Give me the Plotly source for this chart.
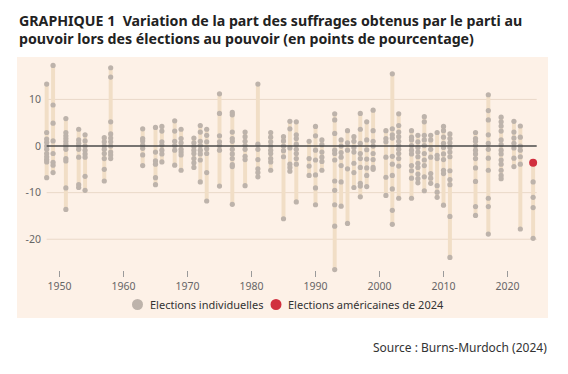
import plotly.graph_objects as go

# ---- data ----
years = [1948, 1949, 1951, 1953, 1954, 1957, 1958, 1963, 1965, 1966, 1968, 1969,
         1971, 1972, 1973, 1975, 1977, 1979, 1981, 1983, 1985, 1986, 1987, 1989,
         1990, 1991, 1993, 1994, 1995, 1996, 1997, 1998, 1999, 2001, 2002, 2003,
         2005, 2006, 2007, 2008, 2009, 2010, 2011, 2015, 2017, 2019, 2021, 2022, 2024]

values = [
    [13.3, 2.9, 1.5, 0.8, 0, -0.7, -1.6, -2.3, -2.9, -3.4, -6.8],          # 1948
    [17.3, 8.8, 4.9, 1.1, -1.6, -3.5, -4.1, -5.7],                         # 1949
    [5.9, 2.9, 2.2, 1.6, 1.0, 0.4, -0.1, -0.7, -2.7, -3.2, -9.0, -13.6],   # 1951
    [3.6, 1.3, 0.6, 0, -0.7, -2.4, -8.3, -8.9],                            # 1953
    [2.4, 1.1, 0, -0.9, -1.7, -2.4, -6.5, -9.5],                           # 1954
    [1.8, 0.9, 0, -0.7, -1.6, -2.7, -5.0, -7.5],                           # 1957
    [16.8, 14.8, 5.2, 2.6, 1.7, 0.9, 0, -1.3, -1.9, -2.7],                 # 1958
    [3.7, 1.6, 1.1, 0.2, -0.5, -1.9, -4.2],                                # 1963
    [4.0, -1.3, -3.2, -3.9, -6.8, -8.3],                                   # 1965
    [4.2, 3.2, 0.9, 0.2, -0.9, -1.7, -3.4],                                # 1966
    [5.4, 3.2, 1.0, 0.1, -0.9, -4.1],                                      # 1968
    [3.6, 1.6, 0.7, -0.7, -1.3, -1.9, -5.2],                               # 1969
    [1.7, 0.7, -0.1, -0.9, -1.6, -2.7, -3.6, -4.6],                        # 1971
    [4.4, 3.0, 1.0, 0.1, -0.9, -1.7, -3.0, -7.7],                          # 1972
    [3.6, 2.3, 0.9, -0.6, -1.6, -5.7, -11.8],                              # 1973
    [11.2, 7.0, 2.2, 0.9, 0.1, -0.9, -8.6],                                # 1975
    [7.2, 6.7, 3.0, 1.6, 1.0, -0.7, -1.7, -2.7, -4.0, -4.4, -12.5],        # 1977
    [3.0, 2.0, 1.0, 0.1, -0.7, -2.2, -2.9, -8.5],                          # 1979
    [13.3, 0.4, -0.7, -2.9, -4.9, -5.7, -6.6],                             # 1981
    [2.9, 1.9, 0.9, 0, -0.9, -1.6, -2.7, -3.4, -5.2],                      # 1983
    [2.0, 1.1, 0, -1.0, -2.3, -15.6],                                      # 1985
    [5.3, 3.7, -0.4, -3.9, -4.6, -5.4],                                    # 1986
    [5.2, 2.4, 1.6, 0.4, -0.7, -1.6, -2.7, -3.9, -12.0],                   # 1987
    [1.0, -2.7, -4.3, -6.3],                                               # 1989
    [4.2, 2.2, -0.9, -3.0, -6.2, -9.0, -12.6],                             # 1990
    [1.3, 0.3, -1.3, -2.4, -3.3, -5.2],                                    # 1991
    [6.9, 5.6, 2.7, -0.9, -1.6, -3.0, -7.5, -9.5, -12.6, -17.2, -26.5],    # 1993
    [1.3, 0, -1.4, -2.4, -4.2, -7.7, -12.9],                               # 1994
    [3.3, 0.7, -0.9, -4.9, -16.6],                                         # 1995
    [2.0, 1.0, -0.3, -1.3, -3.7, -5.7, -8.9],                              # 1996
    [7.0, 3.6, 0.6, -1.6, -2.7, -4.6, -8.0, -8.6, -10.9],                  # 1997
    [5.2, 1.3, -0.8, -2.8, -4.7, -6.3, -8.7],                              # 1998
    [7.7, 3.3, 1.0, 0, -1.6, -2.9, -4.6, -5.0],                            # 1999
    [3.3, 1.6, 0.9, -2.4, -6.7, -10.6],                                    # 2001
    [15.5, 3.7, 2.4, 1.7, -2.2, -3.9, -6.3, -9.2, -13.8, -16.8],           # 2002
    [6.9, 4.4, 3.0, 2.0, 1.0, 0.1, -0.7, -1.6, -2.7, -4.3, -11.2],         # 2003
    [3.3, 1.9, 1.3, 0.1, -0.9, -1.7, -4.2, -5.3, -6.9, -11.2],             # 2005
    [2.3, 0.9, -0.3, -1.3, -2.3, -3.7, -4.6, -6.0, -7.0, -7.9],            # 2006
    [6.3, 5.2, 2.3, 1.3, 0.1, -1.6, -3.0, -4.2, -6.6, -9.6],               # 2007
    [2.3, 1.3, -0.7, -2.4, -5.9, -6.9, -8.0],                              # 2008
    [2.9, -2.0, -2.7, -8.5, -9.9, -11.0],                                  # 2009
    [4.2, 3.3, 1.9, 0.6, -0.3, -1.7, -2.9, -5.2, -5.9, -12.7],             # 2010
    [2.6, 1.6, 0.7, -0.3, -1.3, -2.3, -5.3, -7.2, -8.3, -15.1, -23.9],     # 2011
    [2.9, 1.6, 1.0, 0.1, -0.9, -1.7, -2.7, -4.7, -7.6, -13.0, -14.9],      # 2015
    [11.0, 7.6, 5.6, 2.4, 0.6, -0.7, -2.6, -5.2, -11.2, -13.0, -18.9],     # 2017
    [6.2, 5.2, 4.3, 3.2, 1.3, 0.3, -0.9, -1.7, -3.0, -3.9, -5.2, -6.3, -7.0],  # 2019
    [5.3, 3.0, 1.7, 0.6, -0.4, -2.6, -4.4],                                # 2021
    [4.3, 1.9, 0, -0.9, -2.3, -3.9, -17.8],                                # 2022
    [-7.7, -11.0, -13.2, -19.8],                                           # 2024
]

us_year = [2024]
us_value = [-3.6]

y_ticks = [10, 0, -10, -20]
x_ticks = [1950, 1960, 1970, 1980, 1990, 2000, 2010, 2020]

title1 = "GRAPHIQUE 1&nbsp;&nbsp;Variation de la part des suffrages obtenus par le parti au"
title2 = "pouvoir lors des élections au pouvoir (en points de pourcentage)"
legend_gray = "Elections individuelles"
legend_red = "Elections américaines de 2024"
source = "Source : Burns-Murdoch (2024)"

# ---- colours ----
BG = "#FDF1E7"
BAR = "#F1DEC6"
DOT = "#BDB3AB"
RED = "#D12F3E"
GRID = "#EAD8C8"
ZERO = "#4A4A4A"
FONT = "Noto Sans"

# ---- derived series ----
mins, maxs = [], []
for yr, vals in zip(years, values):
    allv = list(vals) + [v for y2, v in zip(us_year, us_value) if y2 == yr]
    mins.append(min(allv))
    maxs.append(max(allv))

dot_x = [yr for yr, vals in zip(years, values) for _ in vals]
dot_y = [v for vals in values for v in vals]

# ---- layout geometry (pixels; page has an 8px body margin) ----
OFF = 8
W, H = 560, 366
L, R, T, B = 34, 27, 54, 104
PW, PH = W - L - R, H - T - B


def px(x):
    return (x - OFF - L) / PW


def py(y):
    return (H - B - (y - OFF)) / PH


fig = go.Figure()

fig.add_trace(go.Bar(
    x=years, base=mins, y=[a - b for a, b in zip(maxs, mins)],
    width=0.62, marker=dict(color=BAR, line=dict(width=0)),
    hoverinfo="skip", showlegend=False,
))

fig.add_trace(go.Scatter(
    x=dot_x, y=dot_y, mode="markers",
    marker=dict(color=DOT, size=5.2, line=dict(width=0)),
    cliponaxis=False, showlegend=False, name=legend_gray,
))

fig.add_trace(go.Scatter(
    x=us_year, y=us_value, mode="markers",
    marker=dict(color=RED, size=8, line=dict(width=0)),
    cliponaxis=False, showlegend=False, name=legend_red,
))

shapes = []
# beige panel
shapes.append(dict(type="rect", xref="paper", yref="paper",
                   x0=px(17), x1=px(548), y0=py(318), y1=py(57),
                   fillcolor=BG, line=dict(width=0), layer="below"))
# grid lines
for v in y_ticks:
    if v == 0:
        continue
    shapes.append(dict(type="line", xref="x", yref="y", x0=1948, x1=2024.56,
                       y0=v, y1=v, line=dict(color=GRID, width=1), layer="below"))
shapes.append(dict(type="line", xref="x", yref="y", x0=1948, x1=2024.56,
                   y0=0, y1=0, line=dict(color=ZERO, width=1.5), layer="above"))
# legend symbols
for cx, col in [(137.5, DOT), (276, RED)]:
    shapes.append(dict(type="circle", xref="paper", yref="paper",
                       xsizemode="pixel", ysizemode="pixel",
                       xanchor=px(cx), yanchor=py(304.5),
                       x0=-5.5, x1=5.5, y0=-5.5, y1=5.5,
                       fillcolor=col, line=dict(width=0)))

annotations = [
    dict(text="<b>" + title1 + "</b>", x=px(17), y=py(20.5), xref="paper", yref="paper",
         xanchor="left", yanchor="middle", showarrow=False,
         font=dict(family=FONT, size=14.2, color="#222222")),
    dict(text="<b>" + title2 + "</b>", x=px(17), y=py(38.5), xref="paper", yref="paper",
         xanchor="left", yanchor="middle", showarrow=False,
         font=dict(family=FONT, size=14.2, color="#222222")),
    dict(text=legend_gray, x=px(148), y=py(304.5), xref="paper", yref="paper",
         xanchor="left", yanchor="middle", showarrow=False,
         font=dict(family=FONT, size=11, color="#333333")),
    dict(text=legend_red, x=px(286), y=py(304.5), xref="paper", yref="paper",
         xanchor="left", yanchor="middle", showarrow=False,
         font=dict(family=FONT, size=11, color="#333333")),
    dict(text=source, x=px(549), y=py(347.5), xref="paper", yref="paper",
         xanchor="right", yanchor="middle", showarrow=False,
         font=dict(family=FONT, size=12, color="#333333")),
]

fig.update_layout(
    width=W, height=H,
    margin=dict(l=L, r=R, t=T, b=B, pad=0),
    paper_bgcolor="white", plot_bgcolor="rgba(0,0,0,0)",
    showlegend=False, barmode="overlay",
    shapes=shapes, annotations=annotations,
    font=dict(family=FONT, size=10.5, color="#666666"),
)

fig.update_xaxes(
    range=[1947.27, 2025.23], tickvals=x_ticks, ticktext=[str(t) for t in x_ticks],
    showgrid=False, zeroline=False, showline=False,
    ticks="outside", ticklen=6, tickwidth=1, tickcolor="#9A9A9A",
    tickfont=dict(family=FONT, size=10.5, color="#666666"),
)
fig.update_yaxes(
    range=[-26.6, 18.03], tickvals=y_ticks, ticktext=[str(t) for t in y_ticks],
    showgrid=False, zeroline=False, showline=False, ticks="",
    tickfont=dict(family=FONT, size=10.5, color="#666666"),
)

fig.write_html("out.html")
